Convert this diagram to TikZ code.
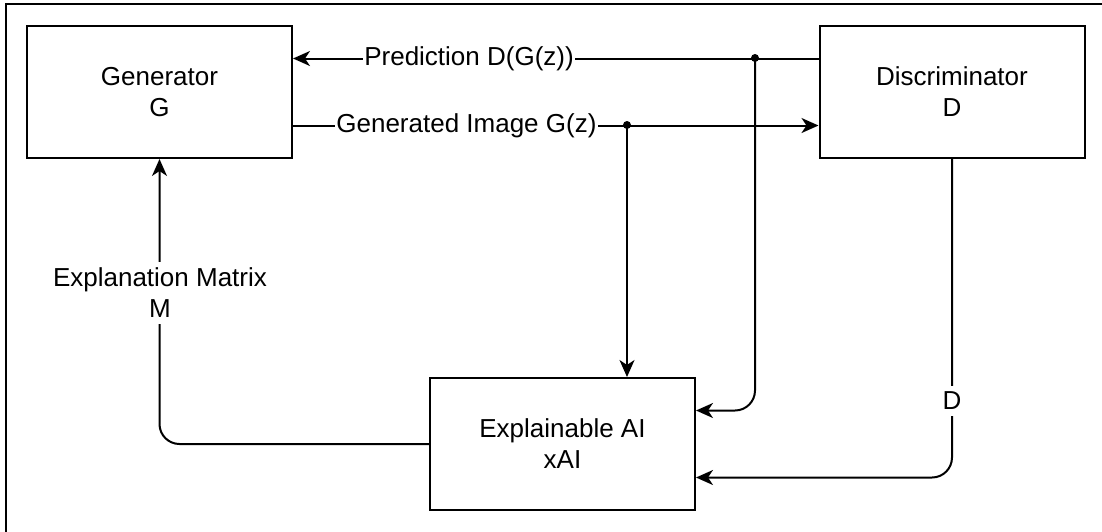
\documentclass[tikz,border=0pt]{standalone}
\usepackage{fontspec}
\setmainfont{Liberation Sans}
\usetikzlibrary{arrows.meta,calc}
\begin{document}
\begin{tikzpicture}[x=1pt,y=-1pt,
 txt/.style={font=\fontsize{26}{31}\selectfont},
 box/.style={draw, line width=2pt, minimum width=265pt, minimum height=132pt, inner sep=0pt, align=center, txt},
 conn/.style={line width=2pt, -{Stealth[length=17pt,width=15pt,inset=5pt]}},
 wire/.style={line width=2pt},
 lbl/.style={fill=white, inner xsep=1.5pt, inner ysep=6pt, align=center, txt},
 dot/.style={circle, fill, inner sep=0pt, minimum size=8pt},
 frame/.style={draw, line width=2pt}]
\useasboundingbox (0,0) rectangle (1102,531);
\clip (0,0) rectangle (1102,531);
\draw[frame] (6,4) rectangle (1130,560);

\node[box] (G) at (159.5,92) {Generator\\G};
\node[box] (D) at (952,92) {Discriminator\\D};
\node[box] (X) at (562.5,444) {Explainable AI\\xAI};

\coordinate (Dp) at ($(D.north west)!0.25!(D.south west)$);
\coordinate (Gp) at ($(G.north east)!0.25!(G.south east)$);
\coordinate (Gg) at ($(G.north east)!0.75!(G.south east)$);
\coordinate (Dg) at ($(D.north west)!0.75!(D.south west)$);
\coordinate (Xa) at ($(X.north east)!0.25!(X.south east)$);
\coordinate (Xb) at ($(X.north east)!0.75!(X.south east)$);

\node[dot] (p1) at (755,58) {};
\node[dot] (g1) at (627,125) {};

\draw[conn] (Dp) -- node[lbl, pos=0.665] (pl) {Prediction D(G(z))} (Gp);
\draw[conn] (Gg) -- node[lbl, pos=0.33] (gl) {Generated Image G(z)} (Dg);
\draw[conn] (g1.center) -- (g1.center |- X.north);
\draw[conn, rounded corners=20pt] (p1.center) |- (Xa);
\draw[conn, rounded corners=20pt] (D.south) |- (Xb);
\node[lbl] (dl) at (952,401) {D};
\draw[conn, rounded corners=20pt] (X.west) -| (G.south);
\node[lbl] (ml) at (160,293) {Explanation Matrix\\M};
\end{tikzpicture}
\end{document}
